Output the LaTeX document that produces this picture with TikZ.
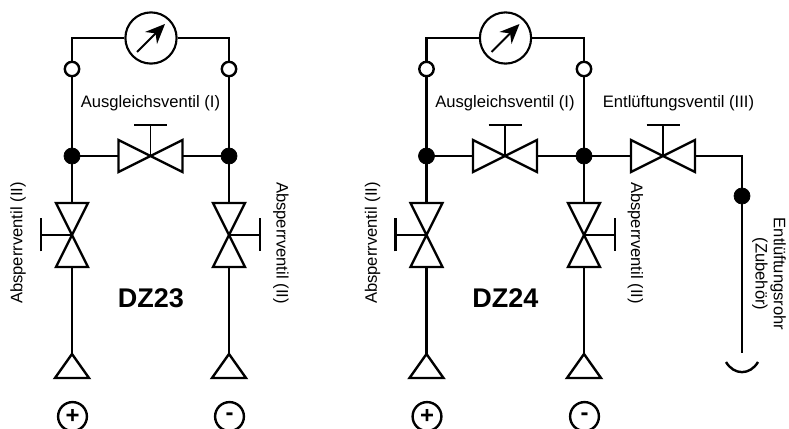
\documentclass[tikz,border=0pt]{standalone}
\usepackage{fontspec}
\setmainfont{Liberation Sans}
\usetikzlibrary{arrows.meta, positioning}

\begin{document}
\begin{tikzpicture}[
      x=0.025cm, y=0.025cm,
      pipe/.style={line width=1.7pt},
      stem/.style={line width=0.8pt},
      junc/.style={draw, circle, fill=black, inner sep=0pt, line width=0.5pt, minimum size=0.4cm},
      open/.style={draw, circle, fill=white, pipe, inner sep=0pt, minimum size=0.36cm},
      gauge/.style={draw, circle, line width=1.5pt, inner sep=0pt, minimum size=1.28cm},
      sign/.style={draw, circle, pipe, inner sep=0pt, minimum size=0.72cm, font=\fontsize{17}{17}\selectfont\bfseries},
      needle/.style={-{Stealth[length=14pt,width=12pt]}, line width=1.4pt},
      lbl/.style={font=\fontsize{11.8}{13}\selectfont, align=center, inner sep=0pt},
      title/.style={font=\fontsize{19.2}{20}\selectfont\bfseries, inner sep=0pt},
      valve/.pic={
        \draw[pipe] (-32,-16) -- (32,16) -- (32,-16) -- (-32,16) -- cycle;
        \draw[stem] (0,0) -- (0,31);
        \draw[pipe] (-16.5,31) -- (16.5,31);
        \coordinate (-in) at (-32,0);
        \coordinate (-out) at (32,0);
      },
      port/.pic={
        \draw[pipe] (-17,0) -- (17,0) -- (0,24) -- cycle;
        \coordinate (-top) at (0,24);
      }
    ]
    \useasboundingbox (0,0) rectangle (789,428);

    % --- DZ23 ---
    \node[gauge] (gaugeA) at (151,390) {};
    \node[open] (openA1) at (72,359) {};
    \node[open] (openA2) at (229,359) {};
    \pic (balA) at (150.5,272) {valve};
    \pic[rotate=90] (shutA1) at (72,193) {valve};
    \pic[rotate=-90] (shutA2) at (229,193) {valve};
    \pic (portA1) at (72,50) {port};
    \pic (portA2) at (229,50) {port};
    \node[sign] (plusA) at (72.5,11.5) {+};
    \node[sign] (minusA) at (229.5,11.5) {-};

    \draw[pipe] (gaugeA.west) -| (openA1.north);
    \draw[pipe] (gaugeA.east) -| (openA2.north);
    \draw[pipe] (openA1.south) -- (shutA1-out);
    \draw[pipe] (openA2.south) -- (shutA2-in);
    \draw[pipe] (shutA1-in) -- (portA1-top);
    \draw[pipe] (shutA2-out) -- (portA2-top);
    \draw[pipe] (72,272) -- (balA-in);
    \draw[pipe] (balA-out) -- (229,272);
    \node[junc] (juncA1) at (72,272) {};
    \node[junc] (juncA2) at (229,272) {};
    \draw[needle] (137,376) -- (165,404);

    \node[lbl] (lblBalA) at (150.5,325) {Ausgleichsventil (I)};
    \node[lbl, rotate=90] (lblShutA1) at (18,185) {Absperrventil (II)};
    \node[lbl, rotate=-90] (lblShutA2) at (281,185) {Absperrventil (II)};
    \node[title] (titleA) at (151,130) {DZ23};

    % --- DZ24 ---
    \node[gauge] (gaugeB) at (505.5,390) {};
    \node[open] (openB1) at (426.5,359) {};
    \node[open] (openB2) at (584,359) {};
    \pic (balB) at (505,272) {valve};
    \pic (ventB) at (663,272) {valve};
    \pic[rotate=90] (shutB1) at (426.5,193) {valve};
    \pic[rotate=-90] (shutB2) at (584,193) {valve};
    \pic (portB1) at (426.5,50) {port};
    \pic (portB2) at (584,50) {port};
    \node[sign] (plusB) at (427,11.5) {+};
    \node[sign] (minusB) at (584.5,11.5) {-};
    \coordinate (bendB) at (742,272);
    \coordinate (endB) at (742,75);

    \draw[pipe] (gaugeB.west) -| (openB1.north);
    \draw[pipe] (gaugeB.east) -| (openB2.north);
    \draw[pipe] (openB1.south) -- (shutB1-out);
    \draw[pipe] (openB2.south) -- (shutB2-in);
    \draw[pipe] (shutB1-in) -- (portB1-top);
    \draw[pipe] (shutB2-out) -- (portB2-top);
    \draw[pipe] (426.5,272) -- (balB-in);
    \draw[pipe] (balB-out) -- (584,272) -- (ventB-in);
    \draw[pipe] (ventB-out) -- (bendB) -- (endB);
    \node[junc] (juncB1) at (426.5,272) {};
    \node[junc] (juncB2) at (584,272) {};
    \node[junc] (juncB3) at (742,232) {};
    \draw[needle] (491.5,376) -- (519.5,404);
    \draw[pipe] (726,66) .. controls (734,52.5) and (750,52.5) .. (758,66);

    \node[lbl] (lblBalB) at (505,325) {Ausgleichsventil (I)};
    \node[lbl] (lblVentB) at (678.5,325) {Entlüftungsventil (III)};
    \node[lbl, rotate=90] (lblShutB1) at (372.5,185) {Absperrventil (II)};
    \node[lbl, rotate=-90] (lblShutB2) at (635.5,185) {Absperrventil (II)};
    \node[lbl, rotate=-90] (lblPipeB) at (769,154) {Entlüftungsrohr\\(Zubehör)};
    \node[title] (titleB) at (505.5,130) {DZ24};

  \end{tikzpicture}
\end{document}
